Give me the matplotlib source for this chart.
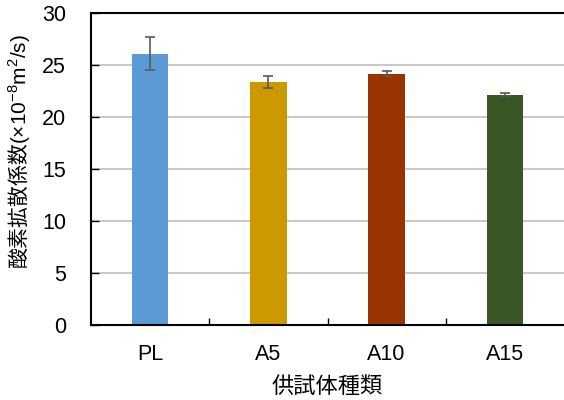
import matplotlib
matplotlib.use('Agg')
import matplotlib.pyplot as plt
import numpy as np

# oxygen diffusion coefficient per specimen type
specimens = ['PL', 'A5', 'A10', 'A15']
coeffs = [26.1, 23.4, 24.15, 22.15]
errors = [1.55, 0.57, 0.23, 0.15]
colors = ['#5B9BD5', '#CC9900', '#993300', '#3A5624']
yTicks = [0, 5, 10, 15, 20, 25, 30]

plt.rcParams['font.family'] = ['Liberation Sans', 'Noto Sans CJK JP']
# unit part of the y label goes through mathtext in the latin font
plt.rcParams['mathtext.fontset'] = 'custom'
plt.rcParams['mathtext.rm'] = 'Liberation Sans'
plt.rcParams['mathtext.default'] = 'rm'

fig = plt.figure(figsize=(5.64, 4.0), dpi=100)
ax = fig.add_axes([91/564, 75/400, 473/564, 312/400])

x = np.arange(len(specimens))
ax.bar(x, coeffs, width=0.31, color=colors, zorder=2)
ax.errorbar(x, coeffs, yerr=errors, fmt='none', ecolor='#595959',
            elinewidth=1.2, capsize=3.5, capthick=1.2, zorder=3)

ax.set_xlim(-0.5, 3.5)
ax.set_ylim(0, 30)
ax.set_yticks(yTicks)
ax.set_xticks(x)
ax.set_xticklabels(specimens)
ax.set_xticks(x[:-1] + 0.5, minor=True)
ax.tick_params(axis='x', which='major', length=0, pad=14, labelsize=15.5)
ax.tick_params(axis='x', which='minor', direction='in', length=5, width=1)
ax.tick_params(axis='y', direction='in', length=6, width=1, pad=18, labelsize=15.5)

ax.yaxis.grid(True, color='#BFBFBF', linewidth=1.2, zorder=0)
ax.set_axisbelow(True)
for side in ['left', 'bottom', 'top']:
    ax.spines[side].set_linewidth(1.5)
    ax.spines[side].set_color('black')
ax.spines['right'].set_visible(False)

ax.set_xlabel('供試体種類', fontsize=16, labelpad=7, family='Noto Sans CJK JP')
ax.set_ylabel('酸素拡散係数$(×10^{-8}m^{2}/s)$', fontsize=15,
              family='Noto Sans CJK JP')
ax.yaxis.set_label_coords(-0.125, 0.555)

plt.savefig('out.png', dpi=100)
